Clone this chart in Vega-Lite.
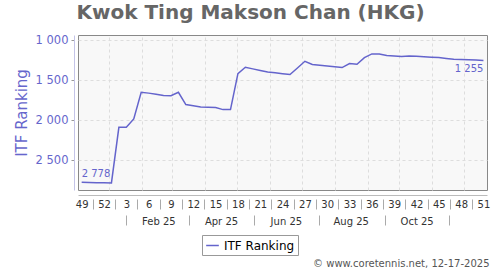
{
  "$schema": "https://vega.github.io/schema/vega-lite/v6.json",
  "width": 409,
  "height": 155,
  "autosize": {"type": "none"},
  "padding": {"left": 78, "top": 35, "right": 13, "bottom": 80},
  "title": {"text": "Kwok Ting Makson Chan (HKG)", "fontSize": 20, "font": "DejaVu Sans", "fontWeight": "bold", "color": "#666666", "anchor": "middle", "frame": "group", "dx": -32, "offset": 11},
  "config": {
    "font": "DejaVu Sans",
    "view": {"stroke": "#888888", "fill": "#f8f8f8", "strokeWidth": 1},
    "locale": {"number": {"decimal": ".", "thousands": " ", "grouping": [3], "currency": ["", ""]}},
    "axis": {"labelFont": "DejaVu Sans", "titleFont": "DejaVu Sans"}
  },
  "data": {"values": [
    {"date": "2024-12-06", "rank": 2778},
    {"date": "2024-12-13", "rank": 2780},
    {"date": "2024-12-20", "rank": 2783},
    {"date": "2024-12-27", "rank": 2785},
    {"date": "2025-01-03", "rank": 2786},
    {"date": "2025-01-10", "rank": 2091},
    {"date": "2025-01-17", "rank": 2092},
    {"date": "2025-01-24", "rank": 1986},
    {"date": "2025-01-31", "rank": 1653},
    {"date": "2025-02-07", "rank": 1664},
    {"date": "2025-02-14", "rank": 1677},
    {"date": "2025-02-21", "rank": 1695},
    {"date": "2025-02-28", "rank": 1696},
    {"date": "2025-03-07", "rank": 1653},
    {"date": "2025-03-14", "rank": 1807},
    {"date": "2025-03-21", "rank": 1822},
    {"date": "2025-03-28", "rank": 1836},
    {"date": "2025-04-04", "rank": 1841},
    {"date": "2025-04-11", "rank": 1845},
    {"date": "2025-04-18", "rank": 1870},
    {"date": "2025-04-25", "rank": 1870},
    {"date": "2025-05-02", "rank": 1420},
    {"date": "2025-05-09", "rank": 1341},
    {"date": "2025-05-16", "rank": 1361},
    {"date": "2025-05-23", "rank": 1380},
    {"date": "2025-05-30", "rank": 1399},
    {"date": "2025-06-06", "rank": 1410},
    {"date": "2025-06-13", "rank": 1421},
    {"date": "2025-06-20", "rank": 1432},
    {"date": "2025-06-27", "rank": 1350},
    {"date": "2025-07-04", "rank": 1266},
    {"date": "2025-07-11", "rank": 1307},
    {"date": "2025-07-18", "rank": 1317},
    {"date": "2025-07-25", "rank": 1326},
    {"date": "2025-08-01", "rank": 1335},
    {"date": "2025-08-08", "rank": 1345},
    {"date": "2025-08-15", "rank": 1295},
    {"date": "2025-08-22", "rank": 1303},
    {"date": "2025-08-29", "rank": 1220},
    {"date": "2025-09-05", "rank": 1174},
    {"date": "2025-09-12", "rank": 1174},
    {"date": "2025-09-19", "rank": 1195},
    {"date": "2025-09-26", "rank": 1201},
    {"date": "2025-10-03", "rank": 1207},
    {"date": "2025-10-10", "rank": 1199},
    {"date": "2025-10-17", "rank": 1204},
    {"date": "2025-10-24", "rank": 1210},
    {"date": "2025-10-31", "rank": 1215},
    {"date": "2025-11-07", "rank": 1218},
    {"date": "2025-11-14", "rank": 1230},
    {"date": "2025-11-21", "rank": 1241},
    {"date": "2025-11-28", "rank": 1244},
    {"date": "2025-12-05", "rank": 1248},
    {"date": "2025-12-12", "rank": 1251},
    {"date": "2025-12-19", "rank": 1255}
  ]},
  "encoding": {
    "y": {
      "field": "rank", "type": "quantitative",
      "scale": {"domain": [937.5, 2875], "reverse": true, "nice": false, "zero": false},
      "axis": {
        "values": [1000, 1500, 2000, 2500], "format": ",.0f",
        "title": "ITF Ranking", "titleColor": "#6666cc", "titleFontSize": 15, "titleFontWeight": "normal", "titlePadding": 6,
        "labelColor": "#6666cc", "labelFontSize": 11.5, "labelPadding": 3,
        "offset": 4, "domainColor": "#c4c4e8", "tickColor": "#999999", "tickSize": 3,
        "grid": true, "gridDash": [3, 3], "gridColor": "#dddddd"
      }
    }
  },
  "layer": [
    {
      "mark": {"type": "point", "opacity": 0},
      "encoding": {
        "x": {
          "field": "date", "type": "temporal",
          "scale": {"domain": [{"year": 2024, "month": 12, "date": 2, "hours": 13}, {"year": 2025, "month": 12, "date": 22, "hours": 8}]},
          "axis": {
            "orient": "bottom", "values": [
              {"year": 2025, "month": 1, "date": 1}, {"year": 2025, "month": 2, "date": 1}, {"year": 2025, "month": 3, "date": 1},
              {"year": 2025, "month": 4, "date": 1}, {"year": 2025, "month": 5, "date": 1}, {"year": 2025, "month": 6, "date": 1},
              {"year": 2025, "month": 7, "date": 1}, {"year": 2025, "month": 8, "date": 1}, {"year": 2025, "month": 9, "date": 1},
              {"year": 2025, "month": 10, "date": 1}, {"year": 2025, "month": 11, "date": 1}, {"year": 2025, "month": 12, "date": 1}
            ],
            "grid": true, "gridDash": [3, 3], "gridColor": "#dddddd",
            "labels": false, "ticks": false, "domain": false,
            "title": "© www.coretennis.net, 12-17-2025", "titleFontSize": 10, "titleFontWeight": "normal", "titleColor": "#555555",
            "titleAlign": "right", "titleAnchor": "end", "titleBaseline": "alphabetic", "titleX": 411, "titleY": 76.5
          }
        }
      }
    },
    {
      "mark": {"type": "line", "strokeWidth": 1.5},
      "encoding": {
        "x": {
          "field": "date", "type": "temporal",
          "scale": {"domain": [{"year": 2024, "month": 12, "date": 2, "hours": 13}, {"year": 2025, "month": 12, "date": 22, "hours": 8}]},
          "axis": {
            "orient": "bottom", "title": null, "offset": 5,
            "values": [
              {"year": 2024, "month": 12, "date": 6}, {"year": 2024, "month": 12, "date": 27}, {"year": 2025, "month": 1, "date": 17},
              {"year": 2025, "month": 2, "date": 7}, {"year": 2025, "month": 2, "date": 28}, {"year": 2025, "month": 3, "date": 21},
              {"year": 2025, "month": 4, "date": 11}, {"year": 2025, "month": 5, "date": 2}, {"year": 2025, "month": 5, "date": 23},
              {"year": 2025, "month": 6, "date": 13}, {"year": 2025, "month": 7, "date": 4}, {"year": 2025, "month": 7, "date": 25},
              {"year": 2025, "month": 8, "date": 15}, {"year": 2025, "month": 9, "date": 5}, {"year": 2025, "month": 9, "date": 26},
              {"year": 2025, "month": 10, "date": 17}, {"year": 2025, "month": 11, "date": 7}, {"year": 2025, "month": 11, "date": 28},
              {"year": 2025, "month": 12, "date": 19}
            ],
            "labelExpr": "timeFormat(datum.value, '%-V')",
            "labelFontSize": 10, "labelColor": "#333333", "labelPadding": 4, "labelOverlap": false, "labelBound": false, "labelFlush": false,
            "ticks": false, "grid": false, "domain": true, "domainColor": "#bbbbbb"
          }
        },
        "color": {
          "datum": "ITF Ranking", "type": "nominal",
          "scale": {"range": ["#6464cc"]},
          "legend": {
            "orient": "none", "legendX": 124, "legendY": 200, "title": null, "direction": "horizontal",
            "symbolType": "stroke", "symbolSize": 160, "symbolStrokeWidth": 1.5,
            "labelFontSize": 12, "labelColor": "#000000", "labelFont": "DejaVu Sans",
            "strokeColor": "#999999", "fillColor": "#ffffff", "padding": 3
          }
        }
      }
    },
    {
      "mark": {"type": "point", "opacity": 0},
      "encoding": {
        "x": {
          "field": "date", "type": "temporal",
          "scale": {"domain": [{"year": 2024, "month": 12, "date": 2, "hours": 13}, {"year": 2025, "month": 12, "date": 22, "hours": 8}]},
          "axis": {
            "orient": "bottom", "title": null, "offset": 9,
            "values": [
              {"year": 2024, "month": 12, "date": 16, "hours": 12}, {"year": 2025, "month": 1, "date": 6, "hours": 12}, {"year": 2025, "month": 1, "date": 27, "hours": 12},
              {"year": 2025, "month": 2, "date": 17, "hours": 12}, {"year": 2025, "month": 3, "date": 10, "hours": 12}, {"year": 2025, "month": 3, "date": 31, "hours": 12},
              {"year": 2025, "month": 4, "date": 21, "hours": 12}, {"year": 2025, "month": 5, "date": 12, "hours": 12}, {"year": 2025, "month": 6, "date": 2, "hours": 12},
              {"year": 2025, "month": 6, "date": 23, "hours": 12}, {"year": 2025, "month": 7, "date": 14, "hours": 12}, {"year": 2025, "month": 8, "date": 4, "hours": 12},
              {"year": 2025, "month": 8, "date": 25, "hours": 12}, {"year": 2025, "month": 9, "date": 15, "hours": 12}, {"year": 2025, "month": 10, "date": 6, "hours": 12},
              {"year": 2025, "month": 10, "date": 27, "hours": 12}, {"year": 2025, "month": 11, "date": 17, "hours": 12}, {"year": 2025, "month": 12, "date": 8, "hours": 12}
            ],
            "labels": false, "ticks": true, "tickSize": 10, "tickColor": "#aaaaaa", "domain": false, "grid": false
          }
        }
      }
    },
    {
      "mark": {"type": "point", "opacity": 0},
      "encoding": {
        "x": {
          "field": "date", "type": "temporal",
          "scale": {"domain": [{"year": 2024, "month": 12, "date": 2, "hours": 13}, {"year": 2025, "month": 12, "date": 22, "hours": 8}]},
          "axis": {
            "orient": "bottom", "title": null, "offset": 25,
            "values": [
              {"year": 2025, "month": 1, "date": 17}, {"year": 2025, "month": 3, "date": 17}, {"year": 2025, "month": 5, "date": 17},
              {"year": 2025, "month": 7, "date": 17}, {"year": 2025, "month": 9, "date": 17}, {"year": 2025, "month": 11, "date": 17}
            ],
            "labelExpr": "month(datum.value) == 10 ? '' : timeFormat(datetime(year(datum.value), month(datum.value) + 1, 1), '%b %y')",
            "labelOffset": 32, "labelPadding": -9, "labelBaseline": "top", "labelFontSize": 10, "labelColor": "#333333",
            "labelOverlap": false, "labelBound": false, "labelFlush": false,
            "ticks": true, "tickSize": 10, "tickColor": "#aaaaaa", "domain": false, "grid": false
          }
        }
      }
    },
    {
      "transform": [{"filter": "datum.rank == 2778"}],
      "mark": {"type": "text", "align": "left", "baseline": "bottom", "dy": -3, "fontSize": 10, "color": "#6464cc"},
      "encoding": {
        "x": {"field": "date", "type": "temporal", "axis": null,
          "scale": {"domain": [{"year": 2024, "month": 12, "date": 2, "hours": 13}, {"year": 2025, "month": 12, "date": 22, "hours": 8}]}},
        "text": {"field": "rank", "type": "quantitative", "format": ","}
      }
    },
    {
      "transform": [{"filter": "datum.rank == 1255"}],
      "mark": {"type": "text", "align": "right", "baseline": "top", "dy": 4, "fontSize": 10, "color": "#6464cc"},
      "encoding": {
        "x": {"field": "date", "type": "temporal", "axis": null,
          "scale": {"domain": [{"year": 2024, "month": 12, "date": 2, "hours": 13}, {"year": 2025, "month": 12, "date": 22, "hours": 8}]}},
        "text": {"field": "rank", "type": "quantitative", "format": ","}
      }
    }
  ],
  "resolve": {"axis": {"x": "independent"}}
}
